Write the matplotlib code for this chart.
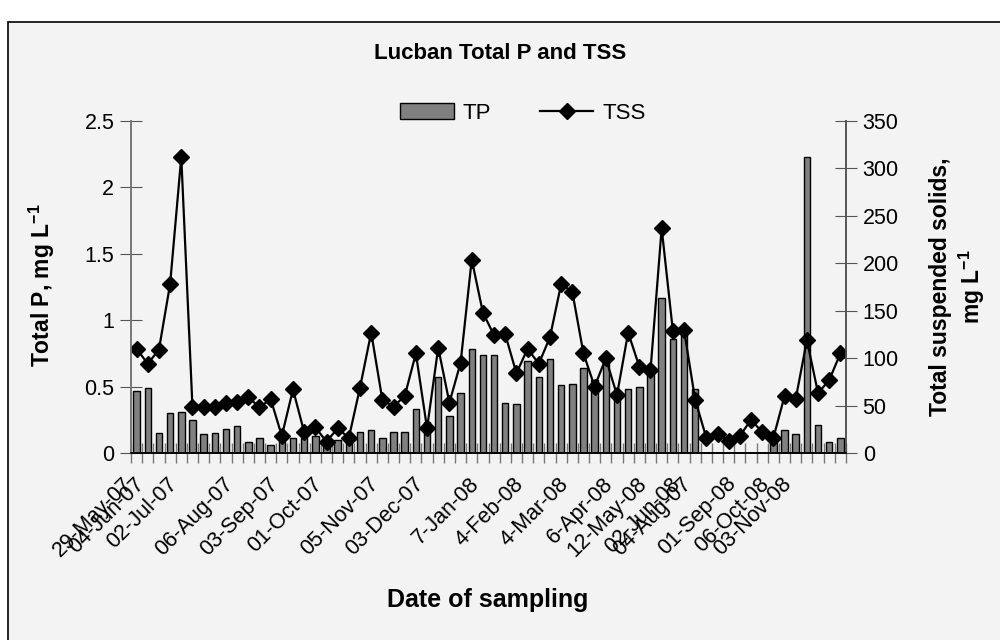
import numpy as np
import matplotlib
matplotlib.use('Agg')
import matplotlib.pyplot as plt
import matplotlib.transforms as mtransforms
from matplotlib.patches import Rectangle

# total phosphorus, mg/L (nan = not sampled)
tp = [0.47, 0.49, 0.15, 0.30, 0.31, 0.25, 0.14, 0.15, 0.18, 0.20,
      0.08, 0.11, 0.06, 0.09, 0.11, 0.11, 0.13, 0.09, 0.10, 0.10,
      0.16, 0.17, 0.11, 0.16, 0.16, 0.33, 0.23, 0.57, 0.28, 0.45,
      0.78, 0.74, 0.74, 0.38, 0.37, 0.69, 0.57, 0.71, 0.51, 0.52,
      0.64, 0.55, 0.70, 0.45, 0.48, 0.50, 0.62, 1.17, 0.86, 0.89,
      0.48, np.nan, np.nan, np.nan, np.nan, np.nan, np.nan, 0.13, 0.17, 0.14,
      2.23, 0.21, 0.08, 0.11]

# total suspended solids, mg/L
tss = [110, 94, 109, 178, 312, 49, 49, 49, 53, 54,
       59, 48, 57, 18, 67, 22, 27, 12, 26, 16,
       69, 127, 56, 49, 60, 105, 26, 111, 53, 95,
       204, 148, 124, 125, 84, 110, 94, 122, 178, 170,
       105, 70, 100, 61, 127, 91, 87, 237, 129, 130,
       56, 16, 20, 13, 18, 35, 22, 16, 60, 57,
       119, 63, 77, 105]

# category labels (only some dates are shown on the axis)
labels = [''] * 64
labels[0] = '29-May-07'
labels[1] = '04-Jun-07'
labels[4] = '02-Jul-07'
labels[9] = '06-Aug-07'
labels[13] = '03-Sep-07'
labels[17] = '01-Oct-07'
labels[22] = '05-Nov-07'
labels[26] = '03-Dec-07'
labels[31] = '7-Jan-08'
labels[35] = '4-Feb-08'
labels[39] = '4-Mar-08'
labels[43] = '6-Apr-08'
labels[46] = '12-May-08'
labels[49] = '02-Jun-08'
labels[50] = '04-Aug-07'
labels[54] = '01-Sep-08'
labels[57] = '06-Oct-08'
labels[59] = '03-Nov-08'

tp_ticks = [0, 0.5, 1, 1.5, 2, 2.5]
tp_ticklabels = ['0', '0.5', '1', '1.5', '2', '2.5']
tss_ticks = [0, 50, 100, 150, 200, 250, 300, 350]

plt.rcParams['font.family'] = ['Liberation Sans', 'DejaVu Sans']
plt.rcParams['mathtext.fontset'] = 'custom'
plt.rcParams['mathtext.rm'] = 'Liberation Sans'
plt.rcParams['mathtext.bf'] = 'Liberation Sans:bold'

fig = plt.figure(figsize=(10, 6.4), dpi=100)
fig.patch.set_facecolor('white')
fig.patches.append(Rectangle((0.008, -0.1), 1.1, 1.0656, transform=fig.transFigure,
                             facecolor='#f3f3f3', edgecolor='black', lw=1.2, zorder=-5))

ax = fig.add_axes([0.131, 0.2922, 0.715, 0.5187])
ax.set_facecolor('none')
x = np.arange(len(tss))

bars = ax.bar(x, tp, width=0.58, color='#808080', edgecolor='black', lw=1)
ax.set_xlim(-0.5, len(tss) - 0.5)
ax.set_ylim(0, 2.5)
ax.set_yticks(tp_ticks, tp_ticklabels)

ax2 = ax.twinx()
line, = ax2.plot(x, tss, color='black', lw=1.6, marker='D', ms=8)
ax2.set_ylim(0, 350)
ax2.set_yticks(tss_ticks)

# tick marks between categories, labels at the category centres
ax.set_xticks(np.arange(len(tss) + 1) - 0.5, [''] * (len(tss) + 1))
ax.set_xticks(x, labels, minor=True)
ax.tick_params(axis='x', which='major', direction='inout', length=14, color='#777777', width=1)
ax.tick_params(axis='x', which='minor', length=0, pad=20, labelsize=15.5)
shift = mtransforms.ScaledTranslation(-0.07, 0, fig.dpi_scale_trans)
for t in ax.get_xticklabels(minor=True):
    t.set_rotation(45)
    t.set_ha('right')
    t.set_va('center')
    t.set_rotation_mode('anchor')
    t.set_transform(t.get_transform() + shift)

ax.tick_params(axis='y', direction='inout', length=16, color='#555555', labelsize=15.5, pad=4)
ax2.tick_params(axis='y', direction='inout', length=16, color='#555555', labelsize=15.5, pad=4)

for a in (ax, ax2):
    a.spines['top'].set_visible(False)
    a.spines['left'].set_color('#777777')
    a.spines['right'].set_color('#555555')
    a.spines['bottom'].set_color('black')
    a.spines['left'].set_linewidth(1.2)
    a.spines['right'].set_linewidth(1.2)
    a.spines['bottom'].set_linewidth(1.2)

fig.legend([bars, line], ['TP', 'TSS'], loc='center', bbox_to_anchor=(0.523, 0.823),
           ncol=2, frameon=False, fontsize=16, handlelength=2.4,
           columnspacing=2.2, handletextpad=0.4)

fig.text(0.5, 0.916, 'Lucban Total P and TSS', ha='center', va='center',
         fontsize=16, fontweight='bold')
fig.text(0.488, 0.0625, 'Date of sampling', ha='center', va='center',
         fontsize=18, fontweight='bold')
fig.text(0.042, 0.555, r'Total P, mg L$^{\mathbf{-1}}$', ha='center', va='center',
         rotation=90, fontsize=16.5, fontweight='bold')
fig.text(0.958, 0.552, 'Total suspended solids,\n' + r'mg L$^{\mathbf{-1}}$', ha='center',
         va='center', rotation=90, fontsize=16.5, fontweight='bold', linespacing=1.25)

plt.savefig('out.png', dpi=100)
